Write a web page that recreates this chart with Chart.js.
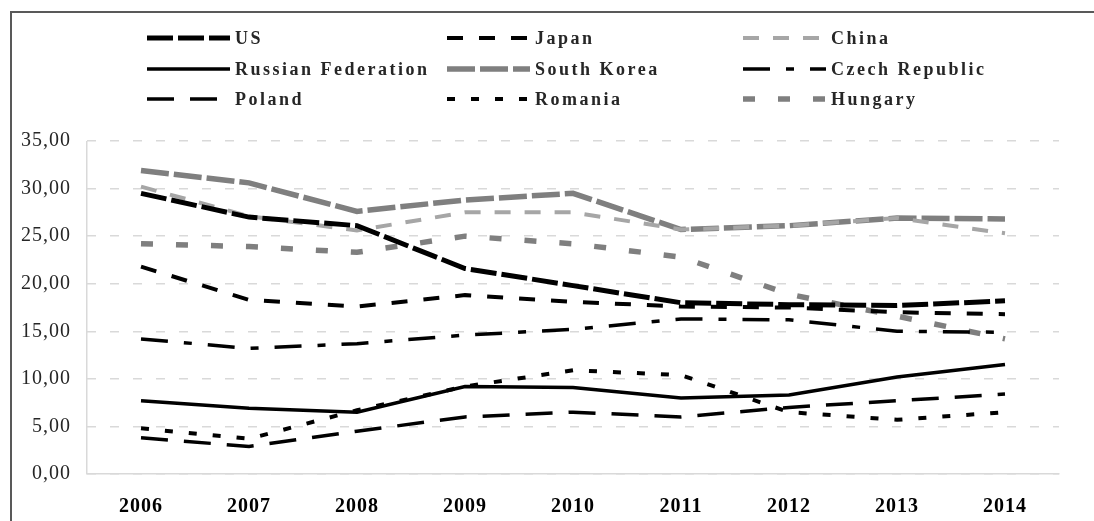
<!DOCTYPE html>
<html>
<head>
<meta charset="utf-8">
<script src="https://cdn.jsdelivr.net/npm/chart.js@4.4.1/dist/chart.umd.min.js"></script>
<style>
    html, body { margin: 0; padding: 0; background: #fff; }
    #wrap { position: relative; width: 1094px; height: 521px; overflow: hidden; }
    #chart { position: absolute; left: 0; top: 0; }
    #frame {
        position: absolute; left: 10px; top: 11px; width: 1200px; height: 600px;
        border-top: 2px solid #595959; border-left: 2px solid #595959; pointer-events: none;
    }
    .item { position: absolute; height: 24px; display: flex; align-items: center; }
    .item svg { display: block; margin-right: 5px; }
    .item span {
        font-family: 'Liberation Serif', serif; font-weight: bold; font-size: 18px;
        letter-spacing: 2.5px; color: #262626; white-space: nowrap;
    }
</style>
</head>
<body>
<div id="wrap">
    <canvas id="chart" width="1094" height="521"></canvas>
    <div id="frame"></div>
    <div id="legend"></div>
</div>
<script>
// Data
const years = ['2006', '2007', '2008', '2009', '2010', '2011', '2012', '2013', '2014'];
const us = [29.5, 27.0, 26.1, 21.6, 19.8, 18.0, 17.8, 17.7, 18.2];
const japan = [21.8, 18.3, 17.6, 18.8, 18.1, 17.6, 17.5, 17.0, 16.8];
const china = [30.2, 27.1, 25.6, 27.5, 27.5, 25.7, 26.1, 26.9, 25.3];
const russia = [7.7, 6.9, 6.5, 9.2, 9.1, 8.0, 8.3, 10.2, 11.5];
const southKorea = [31.9, 30.6, 27.6, 28.8, 29.5, 25.7, 26.1, 26.9, 26.8];
const czech = [14.2, 13.2, 13.7, 14.6, 15.2, 16.3, 16.2, 15.0, 14.9];
const poland = [3.8, 2.9, 4.5, 6.0, 6.5, 6.0, 7.0, 7.7, 8.4];
const romania = [4.8, 3.7, 6.7, 9.2, 10.9, 10.4, 6.5, 5.7, 6.5];
const hungary = [24.2, 23.9, 23.3, 25.0, 24.2, 22.8, 18.9, 16.6, 14.2];
const yTicks = [0, 5, 10, 15, 20, 25, 30, 35];

// Series look (legend order, 3 columns)
const series = [
    { label: 'US', data: us, color: '#000000', width: 5, dash: [26, 5] },
    { label: 'Japan', data: japan, color: '#000000', width: 4, dash: [16, 16] },
    { label: 'China', data: china, color: '#a6a6a6', width: 4, dash: [16, 14] },
    { label: 'Russian Federation', data: russia, color: '#000000', width: 3.5, dash: [] },
    { label: 'South Korea', data: southKorea, color: '#7f7f7f', width: 5.5, dash: [28, 5] },
    { label: 'Czech Republic', data: czech, color: '#000000', width: 3.5, dash: [27, 16, 8, 16] },
    { label: 'Poland', data: poland, color: '#000000', width: 3.5, dash: [27, 16] },
    { label: 'Romania', data: romania, color: '#000000', width: 4, dash: [8, 16] },
    { label: 'Hungary', data: hungary, color: '#7f7f7f', width: 5.5, dash: [12, 23] },
];

// Legend (HTML)
const legendCols = [147, 447, 743];
const legendRows = [38, 69, 99];
const legend = document.getElementById('legend');
series.forEach((s, i) => {
    const item = document.createElement('div');
    item.className = 'item';
    item.style.left = legendCols[i % 3] + 'px';
    item.style.top = (legendRows[Math.floor(i / 3)] - 12) + 'px';
    item.innerHTML = `<svg width="83" height="12"><line x1="0" y1="6" x2="83" y2="6" stroke="${s.color}" stroke-width="${s.width}" stroke-dasharray="${s.dash.length ? s.dash.join(' ') : 'none'}"/></svg><span>${s.label}</span>`;
    legend.appendChild(item);
});

const spacing = {
    id: 'spacing',
    beforeLayout(chart) { chart.ctx.letterSpacing = '1px'; },
    beforeDraw(chart) { chart.ctx.letterSpacing = '1px'; },
};

const gridGrey = '#d9d9d9';

new Chart(document.getElementById('chart'), {
    type: 'line',
    data: {
        labels: years,
        datasets: series.map((s) => ({
            label: s.label,
            data: s.data,
            borderColor: s.color,
            backgroundColor: s.color,
            borderWidth: s.width,
            borderDash: s.dash,
            pointRadius: 0,
            tension: 0,
            fill: false,
        })),
    },
    options: {
        responsive: false,
        animation: false,
        events: [],
        layout: { padding: { top: 141, right: 35, left: 0, bottom: 0 } },
        plugins: { legend: { display: false }, tooltip: { enabled: false } },
        scales: {
            x: {
                offset: true,
                grid: {
                    offset: true,
                    drawTicks: false,
                    color: (ctx) => (ctx.index === 0 || ctx.index === years.length ? gridGrey : 'rgba(0,0,0,0)'),
                    lineWidth: 1.5,
                    tickBorderDash: [8, 16],
                },
                border: { color: gridGrey, width: 1.5, dash: [] },
                ticks: {
                    font: { family: 'Liberation Serif', size: 20, weight: 'bold' },
                    color: '#000000',
                    padding: 21,
                    maxRotation: 0,
                },
                afterFit: (scale) => { scale.height = 47; },
            },
            y: {
                min: 0,
                max: 35,
                afterBuildTicks: (scale) => { scale.ticks = yTicks.map((v) => ({ value: v })); },
                grid: { color: gridGrey, lineWidth: 1.5, drawTicks: false },
                border: { display: false, dash: [9, 14] },
                ticks: {
                    font: { family: 'Liberation Serif', size: 20 },
                    color: '#262626',
                    padding: 16,
                    callback: (v) => v.toFixed(2).replace('.', ','),
                },
                afterFit: (scale) => { scale.width = 87; },
            },
        },
    },
    plugins: [spacing],
});
</script>
</body>
</html>
